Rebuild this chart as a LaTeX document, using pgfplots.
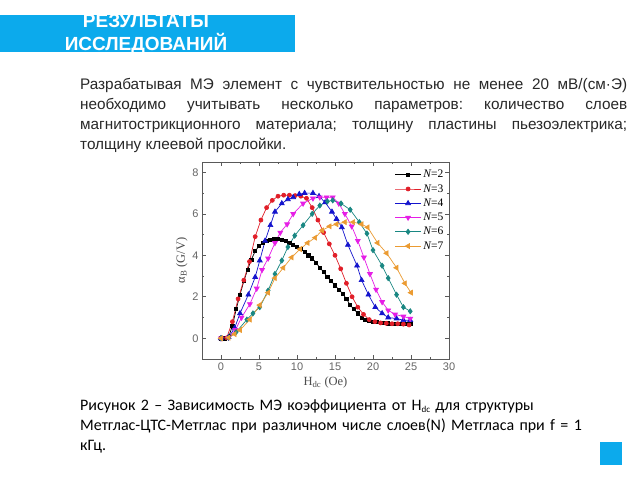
\documentclass[border=0pt]{standalone}
\usepackage{pgfplots}
\pgfplotsset{compat=1.18}
\usepackage{fontspec}
\setmainfont{Liberation Sans}
\newfontfamily\capfont{Carlito}
\newfontfamily\serif{Liberation Serif}
\definecolor{banner}{RGB}{12,170,236}
\definecolor{cN2}{RGB}{0,0,0}
\definecolor{cN3}{RGB}{225,30,40}
\definecolor{cN4}{RGB}{20,20,205}
\definecolor{cN5}{RGB}{230,30,230}
\definecolor{cN6}{RGB}{25,135,130}
\definecolor{cN7}{RGB}{235,155,50}
\definecolor{txt}{RGB}{40,40,40}
\begin{document}
\frenchspacing
\begin{tikzpicture}
\useasboundingbox (0,0) rectangle (640pt,480pt);
\fill[white] (0,0) rectangle (640pt,480pt);
\fill[banner] (0,428pt) rectangle (295pt,465pt);
\node[anchor=base,text=white,font=\bfseries\fontsize{19}{23}\selectfont,inner sep=0] at (146pt,452pt) {РЕЗУЛЬТАТЫ};
\node[anchor=base,text=white,font=\bfseries\fontsize{19}{23}\selectfont,inner sep=0] at (146pt,429pt) {ИССЛЕДОВАНИЙ};
\node[anchor=north west,inner sep=0,text width=547pt,align=justify,text=txt,font=\fontsize{15.3}{20}\selectfont] at (80pt,402pt)
{Разрабатывая МЭ элемент с чувствительностью не менее 20 мВ/(см·Э)\linebreak необходимо учитывать несколько параметров: количество слоев\linebreak магнитострикционного материала; толщину пластины пьезоэлектрика;\linebreak толщину клеевой прослойки.};
\node[anchor=north west,inner sep=0,text width=560pt,align=left,text=black,font=\capfont\fontsize{16}{20}\selectfont] at (80pt,81pt)
{Рисунок 2 – Зависимость МЭ коэффициента от H\raisebox{-2pt}{\fontsize{9}{10}\selectfont dc} для структуры\\
Метглас-ЦТС-Метглас при различном числе слоев(N) Метгласа при f = 1\\
кГц.};
\fill[banner] (600pt,15pt) rectangle (622pt,38pt);
\begin{axis}[
  at={(202pt,121pt)},anchor=south west,
  scale only axis,width=247pt,height=197pt,
  xmin=-2.5,xmax=30,ymin=-1,ymax=8.5,
  xtick={0,5,...,30},ytick={0,2,...,8},
  minor x tick num=1,minor y tick num=1,
  tick align=inside,
  major tick length=4pt,minor tick length=2pt,
  axis line style={draw=black!65,line width=0.7pt},
  every tick/.style={black!65,line width=0.6pt},
  tick label style={font=\fontsize{11}{13}\selectfont,text=black!60},
  /pgf/number format/assume math mode=true,
  xlabel={\serif H\textsubscript{dc} (Oe)},
  ylabel={\serif α\textsubscript{B} (G/V)},
  label style={font=\fontsize{12.5}{14}\selectfont,text=black!70},
  xlabel style={yshift=0pt},
  ylabel style={yshift=-2pt},
  legend style={draw=none,fill=none,at={(0.99,0.975)},anchor=north east,
    font=\serif\fontsize{11.5}{13}\selectfont,row sep=1.2pt,inner sep=1pt},
  legend cell align=left,
  legend image code/.code={\draw[mark repeat=2,mark phase=2] plot coordinates {(0pt,0pt)(13pt,0pt)(26pt,0pt)};},
  every axis plot/.append style={line width=0.7pt},
]
\addplot[cN2,mark=square*,mark size=1.6pt] coordinates {
(0,0)(0.5,0)(1,0.05)(1.5,0.6)(2,1.4)(2.5,2.1)(3,2.75)(3.5,3.3)(4,3.8)(4.5,4.2)(5,4.45)(5.5,4.6)(6,4.7)(6.5,4.75)(7,4.8)(7.5,4.8)(8,4.75)(8.5,4.7)(9,4.6)(9.5,4.5)(10,4.4)(10.5,4.3)(11,4.15)(11.5,4.0)(12,3.85)(12.5,3.65)(13,3.4)(13.5,3.2)(14,2.95)(14.5,2.75)(15,2.55)(15.5,2.35)(16,2.15)(16.5,1.9)(17,1.6)(17.5,1.4)(18,1.2)(18.5,1.0)(19,0.9)(19.5,0.85)(20,0.8)(20.5,0.78)(21,0.75)(21.5,0.73)(22,0.72)(22.5,0.71)(23,0.7)(23.5,0.7)(24,0.7)(24.5,0.69)(25,0.68)};
\addlegendentry{\itshape N\upshape=2}
\addplot[cN3,mark=*,mark size=2pt] coordinates {
(0,0)(0.75,0.02)(1.5,0.8)(2.25,1.9)(3,2.8)(3.75,3.7)(4.5,4.9)(5.25,5.7)(6,6.3)(6.75,6.65)(7.5,6.85)(8.25,6.9)(9,6.9)(9.75,6.88)(10.5,6.85)(11.25,6.75)(12,6.3)(12.75,5.7)(13.5,5.1)(14.25,4.55)(15,4.0)(15.75,3.35)(16.5,2.65)(17.25,2.0)(18,1.5)(18.75,1.15)(19.5,0.9)(20.25,0.8)(21,0.74)(21.75,0.72)(22.5,0.7)(23.25,0.7)(24,0.68)(24.75,0.64)};
\addlegendentry{\itshape N\upshape=3}
\addplot[cN4,mark=triangle*,mark size=2.8pt] coordinates {
(0,0)(1,0.05)(1.8,0.5)(2.5,1.2)(3.6,2.1)(4.5,2.95)(5.1,3.75)(5.8,4.7)(6.5,5.45)(7.1,6.1)(8,6.5)(8.8,6.7)(9.5,6.8)(10.3,6.95)(11,7.0)(12.1,7.0)(12.9,6.85)(13.7,6.55)(14.6,6.1)(15.2,5.75)(15.9,5.35)(16.7,4.5)(17.9,3.5)(18.5,2.8)(19.4,2.1)(20.3,1.5)(21.2,1.2)(22,1.0)(23.1,0.95)(24,0.87)(24.9,0.87)};
\addlegendentry{\itshape N\upshape=4}
\addplot[cN5,mark=triangle*,mark options={rotate=180},mark size=2.8pt] coordinates {
(0,0)(1,0.03)(1.9,0.4)(2.7,1.0)(3.8,1.65)(4.7,2.4)(5.4,3.3)(6.2,3.85)(7.1,4.6)(7.8,5.1)(8.7,5.5)(9.5,6.0)(10.8,6.5)(12.1,6.75)(13,6.8)(13.9,6.8)(14.7,6.8)(15.5,6.5)(16.3,6.0)(17.2,5.4)(18,4.7)(18.8,3.9)(19.6,3.1)(20.4,2.35)(21.2,1.75)(22,1.35)(22.9,1.15)(24,1.05)(24.9,0.95)};
\addlegendentry{\itshape N\upshape=5}
\addplot[cN6,mark=diamond*,mark size=2.6pt] coordinates {
(0,0)(1,0.03)(2,0.3)(3.4,0.9)(4.2,1.2)(5.1,1.5)(6.2,2.3)(7.1,3.1)(8,3.75)(8.8,4.4)(9.7,4.95)(10.8,5.45)(12,6.0)(13,6.4)(14,6.6)(14.7,6.65)(15.8,6.5)(17,6.2)(18.2,5.6)(19.2,5.05)(20,4.25)(21.2,3.5)(22,2.9)(23.1,2.1)(24,1.5)(24.9,1.3)};
\addlegendentry{\itshape N\upshape=6}
\addplot[cN7,mark=triangle*,mark options={rotate=90},mark size=2.8pt] coordinates {
(0,0)(1,0.03)(1.8,0.2)(2.5,0.4)(3.8,0.9)(5.1,1.6)(6.2,2.2)(7.1,2.9)(8.2,3.4)(9.3,3.9)(10.4,4.3)(11.4,4.6)(12.4,4.85)(13.3,5.2)(14.3,5.4)(15.2,5.5)(16.3,5.6)(17.4,5.6)(18.5,5.5)(19.3,5.35)(20.6,4.6)(21.8,4.1)(23.1,3.4)(24.2,2.65)(25,2.2)};
\addlegendentry{\itshape N\upshape=7}
\end{axis}
\end{tikzpicture}
\end{document}
